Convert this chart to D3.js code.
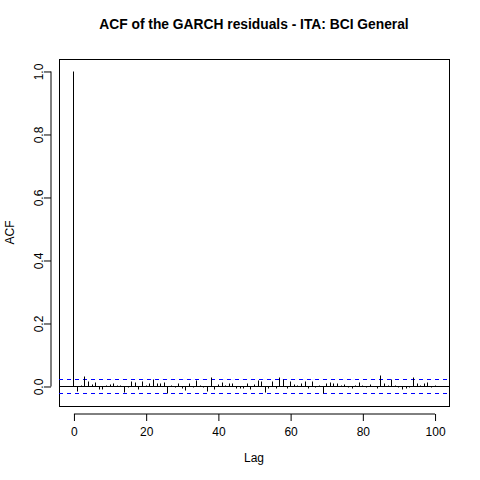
<!DOCTYPE html>
<html>
<head>
<meta charset="utf-8">
<script src="https://cdn.jsdelivr.net/npm/d3@7"></script>
<style>
body{margin:0;background:#fff;}
text{font-family:"Liberation Sans",Arial,sans-serif;}
</style>
</head>
<body>
<svg id="c" width="480" height="480"></svg>
<script>
const title = "ACF of the GARCH residuals - ITA: BCI General";
const lags = d3.range(0, 101);
const acf = [
 1.000, -0.015, 0.004, 0.032, 0.016, 0.006, 0.013, -0.008, -0.010, 0.002,
 0.006, 0.010, 0.004, 0.002, -0.018, -0.002, 0.015, 0.013, -0.008, 0.015,
 0.003, 0.008, 0.021, 0.008, 0.008, 0.013, -0.023, 0.002, -0.004, 0.010,
 -0.006, -0.013, 0.008, -0.004, 0.019, 0.002, -0.004, -0.017, 0.028, -0.010,
 0.006, 0.013, 0.004, 0.010, 0.010, -0.006, -0.006, -0.006, 0.008, -0.008,
 0.006, 0.019, 0.017, -0.019, -0.006, 0.015, -0.006, 0.028, 0.021, -0.005,
 0.015, 0.006, 0.002, 0.008, 0.015, -0.006, 0.015, -0.003, 0.003, -0.021,
 0.010, 0.013, 0.010, 0.010, 0.004, 0.006, -0.002, -0.006, 0.004, 0.013,
 0.002, -0.002, 0.006, 0.001, -0.006, 0.034, 0.010, 0.004, 0.021, 0.004,
 -0.004, -0.008, -0.006, -0.004, 0.028, 0.010, 0.004, 0.010, 0.013, -0.002,
 0.002
];
const ciBound = 0.0222;
const xTicks = [0, 20, 40, 60, 80, 100];
const yTicks = [0.0, 0.2, 0.4, 0.6, 0.8, 1.0];

const svg = d3.select("#c");
const L = 59, R = 449, T = 59, B = 406;
const x = d3.scaleLinear().domain([-4, 104]).range([L, R]);
const y = d3.scaleLinear().domain([-0.0635, 1.038]).range([B, T]);

// title
svg.append("text").attr("x", (L + R) / 2).attr("y", 29)
  .attr("text-anchor", "middle").attr("font-size", 13.8).attr("font-weight", "bold")
  .text(title);

// box
svg.append("rect").attr("x", L + 0.5).attr("y", T + 0.5)
  .attr("width", R - L).attr("height", B - T)
  .attr("fill", "none").attr("stroke", "#000").attr("stroke-width", 1);

// axes
const xAxis = d3.axisBottom(x).tickValues(xTicks).tickSize(7).tickPadding(6).tickFormat(d3.format("d"));
const gx = svg.append("g").attr("transform", `translate(0.5,${B + 8})`).call(xAxis);
gx.select(".domain").attr("d", `M${x(0)},0H${x(100)}`);
gx.selectAll("text").attr("font-size", 12).attr("fill", "#000").attr("font-family", "Liberation Sans, Arial, sans-serif");

const yAxis = d3.axisLeft(y).tickValues(yTicks).tickSize(7).tickFormat(d3.format(".1f"));
const gy = svg.append("g").attr("transform", `translate(${L - 8},0.5)`).call(yAxis);
gy.select(".domain").attr("d", `M0,${y(0)}V${y(1)}`);
gy.selectAll("text").attr("font-size", 12).attr("fill", "#000")
  .attr("font-family", "Liberation Sans, Arial, sans-serif")
  .attr("text-anchor", "middle").attr("x", 0).attr("dy", 0)
  .attr("transform", "translate(-8,0) rotate(-90)");

// axis labels
svg.append("text").attr("x", (L + R) / 2).attr("y", 462).attr("text-anchor", "middle")
  .attr("font-size", 12).text("Lag");
svg.append("text").attr("transform", `translate(14,${(T + B) / 2}) rotate(-90)`)
  .attr("text-anchor", "middle").attr("font-size", 12).text("ACF");

// zero line
svg.append("line").attr("x1", L).attr("x2", R).attr("y1", Math.round(y(0)) + 0.5).attr("y2", Math.round(y(0)) + 0.5)
  .attr("stroke", "#000");

// CI lines
[ciBound, -ciBound].forEach(v => {
  svg.append("line").attr("x1", L).attr("x2", R)
    .attr("y1", Math.round(y(v)) + 0.5).attr("y2", Math.round(y(v)) + 0.5)
    .attr("stroke", "#0000FF").attr("stroke-dasharray", "4,4");
});

// spikes
svg.append("g").selectAll("line").data(lags).join("line")
  .attr("x1", d => Math.round(x(d)) + 0.5).attr("x2", d => Math.round(x(d)) + 0.5)
  .attr("y1", Math.round(y(0)) + 0.5).attr("y2", (d, i) => Math.round(y(acf[i])) + 0.5)
  .attr("stroke", "#000").attr("stroke-width", 1);
</script>
</body>
</html>
